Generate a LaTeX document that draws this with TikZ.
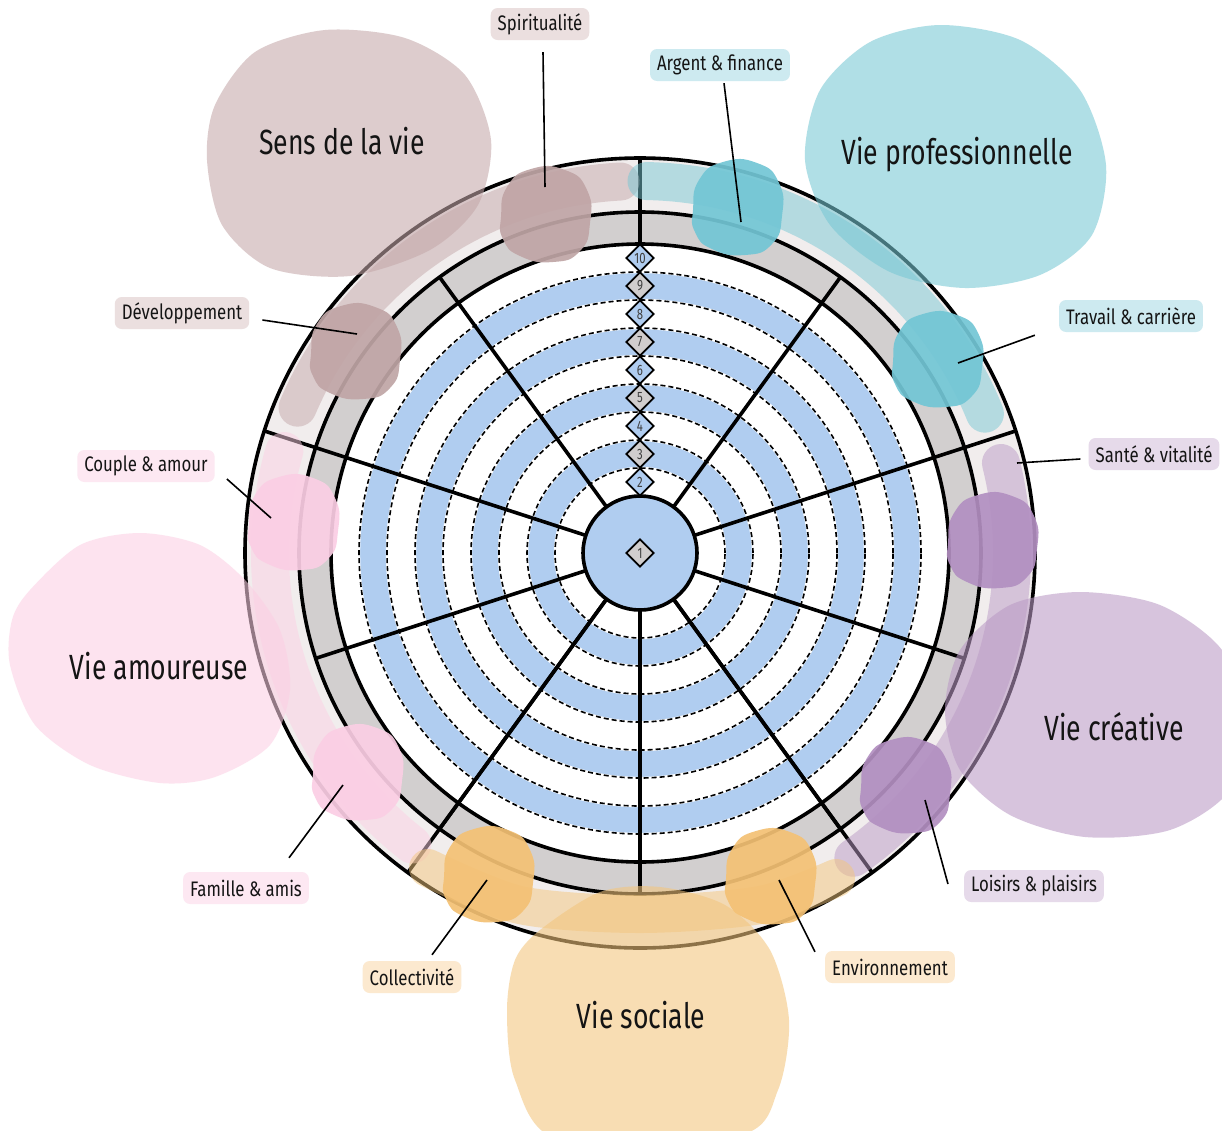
\documentclass[tikz,border=0pt]{standalone}
\usepackage{fontspec}
\setmainfont{Fira Sans}[FakeStretch=0.76]
\newfontfamily\labfont{Fira Sans}[FakeStretch=0.8]
\usetikzlibrary{shapes.geometric}
\definecolor{blueband}{RGB}{176,205,240}
\definecolor{ringgray}{RGB}{210,207,207}
\definecolor{ringlight}{RGB}{241,237,237}
\definecolor{diagray}{RGB}{208,205,205}
\definecolor{txt}{RGB}{20,20,20}
\definecolor{sensC}{RGB}{197,168,170}
\definecolor{proC}{RGB}{120,200,212}
\definecolor{creaC}{RGB}{187,155,198}
\definecolor{socC}{RGB}{243,198,125}
\definecolor{amoC}{RGB}{252,208,228}
\definecolor{sensS}{RGB}{192,165,166}
\definecolor{proS}{RGB}{114,198,213}
\definecolor{creaS}{RGB}{178,143,193}
\definecolor{amoS}{RGB}{251,206,228}
\definecolor{socS}{RGB}{244,193,116}
\definecolor{sensL}{RGB}{235,223,223}
\definecolor{proL}{RGB}{205,234,240}
\definecolor{creaL}{RGB}{230,218,234}
\definecolor{socL}{RGB}{252,233,207}
\definecolor{amoL}{RGB}{253,232,242}
\newcommand{\smallblob}[2]{%
  \fill[#2, fill opacity=0.92, shift={#1}] plot[smooth cycle, tension=0.9] coordinates
   {(-44,2) (-38,-28) (-14,-46) (20,-45) (42,-25) (45,8) (35,36) (8,47) (-25,41) (-42,24)};}
\begin{document}
\begin{tikzpicture}[x=1pt,y=-1pt,
  lab/.style={rounded corners=7pt, inner xsep=7pt, inner ysep=0pt, minimum height=32pt,
    text=txt, font=\labfont\fontsize{21}{24}\selectfont},
  big/.style={text=txt, font=\fontsize{35}{40}\selectfont, inner sep=0pt},
  dia/.style={diamond, draw=black, line width=1.8pt, minimum width=28pt, minimum height=28pt,
    inner sep=0pt, font=\fontsize{15}{15}\selectfont, text=black!75},
  ring/.style={draw=black, line width=3.6pt},
  spoke/.style={draw=black, line width=3.6pt},
  dashring/.style={draw=black, line width=1.6pt, dash pattern=on 5pt off 3pt},
  band/.style={line width=38pt, line cap=round, draw opacity=0.5},
  bigblob/.style={fill opacity=0.58},
  conn/.style={draw=black, line width=1.6pt}]
\path[use as bounding box] (0,0) rectangle (1222,1130);
\clip (0,0) rectangle (1222,1130);
\fill[white] (0,0) rectangle (1222,1130);
\coordinate (C) at (640,553);
% rings
\fill[ringlight] (C) circle[radius=395pt];
\fill[ringgray] (C) circle[radius=341pt];
\fill[white] (C) circle[radius=309pt];
\foreach \r/\c in {281/blueband,253/white,225/blueband,197/white,169/blueband,141/white,113/blueband,85/white,57/blueband}
  \fill[\c] (C) circle[radius=\r pt];
\foreach \r in {85,113,141,169,197,225,253,281}{
  \draw[white, line width=2.4pt] (C) circle[radius=\r pt];
  \draw[dashring] (C) circle[radius=\r pt];}
\foreach \r in {395,341,309,57}
  \draw[ring] (C) circle[radius=\r pt];
% spokes
\foreach \a in {54,126,198,234,270,306,342}
  \draw[spoke] ([shift={(\a:57pt)}]C) -- ([shift={(\a:341pt)}]C);
\foreach \a in {18,162,234,306}
  \draw[spoke] ([shift={(\a:57pt)}]C) -- ([shift={(\a:395pt)}]C);
\draw[spoke] ([shift={(90:309pt)}]C) -- ([shift={(90:395pt)}]C);
% diamonds
\node[dia, fill=diagray] (d1) at (C) {1};
\foreach \k in {2,...,10}{
  \pgfmathsetmacro{\yy}{553-71-28*(\k-2)}
  \pgfmathtruncatemacro{\parit}{mod(\k,2)}
  \ifnum\parit=0 \def\dc{blueband}\else\def\dc{diagray}\fi
  \node[dia, fill=\dc] (d\k) at (640,\yy) {\k};}
% bands
\draw[band, draw=sensC] ([shift={(93:372pt)}]C) arc[start angle=93, end angle=157, radius=372pt];
\draw[band, draw=proC] ([shift={(89:372pt)}]C) arc[start angle=89, end angle=22, radius=372pt];
\draw[band, draw=creaC] ([shift={(14:372pt)}]C) arc[start angle=14, end angle=-55, radius=372pt];
\draw[band, draw=amoC] ([shift={(164:370pt)}]C) arc[start angle=164, end angle=232, radius=370pt];
\draw[band, draw=socC] plot[smooth] coordinates {(428,868) (520,905) (640,914) (760,905) (836,878)};
% big blobs
\fill[sensC, bigblob] plot[smooth cycle] coordinates {(215,105) (255,52) (325,30) (405,38) (465,75) (491,140) (478,205) (430,250) (350,276) (270,268) (222,225) (207,160)};
\fill[proC, bigblob] plot[smooth cycle] coordinates {(820,90) (870,42) (940,25) (1020,40) (1080,90) (1106,165) (1092,235) (1040,275) (965,288) (890,272) (830,225) (805,160)};
\fill[creaC, bigblob] plot[smooth cycle] coordinates {(960,650) (1010,605) (1080,592) (1160,605) (1222,650) (1245,720) (1230,790) (1170,830) (1085,837) (1010,815) (960,770) (945,710)};
\fill[socC, bigblob] plot[smooth cycle] coordinates {(540,930) (600,892) (660,887) (725,905) (770,950) (789,1020) (778,1090) (740,1135) (560,1140) (515,1080) (507,1010) (515,960)};
\fill[amoC, bigblob] plot[smooth cycle] coordinates {(30,590) (80,545) (140,533) (200,545) (245,580) (280,630) (290,690) (270,745) (215,777) (160,783) (90,765) (35,725) (10,665) (12,620)};
% small blobs
\smallblob{(545,215)}{sensS}
\smallblob{(355,352)}{sensS}
\smallblob{(737,208)}{proS}
\smallblob{(937,360)}{proS}
\smallblob{(992,541)}{creaS}
\smallblob{(905,786)}{creaS}
\smallblob{(770,877)}{socS}
\smallblob{(488,875)}{socS}
\smallblob{(293,523)}{amoS}
\smallblob{(357,773)}{amoS}
% big labels
\node[big] (sens) at (342,141) {Sens de la vie};
\node[big] (pro) at (957,155) {Vie professionnelle};
\node[big] (crea) at (1114,727) {Vie créative};
\node[big] (soc) at (641,1015) {Vie sociale};
\node[big] (amo) at (159,666) {Vie amoureuse};
% small labels
\node[lab, fill=sensL] (spi) at (540,24) {Spiritualité};
\node[lab, fill=proL] (arg) at (720,65) {Argent \& finance};
\node[lab, fill=sensL] (dev) at (182,313) {Développement};
\node[lab, fill=proL] (tra) at (1131,316) {Travail \& carrière};
\node[lab, fill=creaL] (san) at (1154,454) {Santé \& vitalité};
\node[lab, fill=amoL] (cou) at (146,466) {Couple \& amour};
\node[lab, fill=amoL] (fam) at (246,888) {Famille \& amis};
\node[lab, fill=socL] (col) at (412,977) {Collectivité};
\node[lab, fill=socL] (env) at (890,967) {Environnement};
\node[lab, fill=creaL] (loi) at (1034,886) {Loisirs \& plaisirs};
% connector targets
\coordinate (spiP) at (545,187);
\coordinate (argP) at (741,222);
\coordinate (devP) at (357,334);
\coordinate (traP) at (958,363);
\coordinate (sanP) at (1017,463);
\coordinate (couP) at (271,518);
\coordinate (famP) at (343,785);
\coordinate (colP) at (487,880);
\coordinate (envP) at (779,880);
\coordinate (loiP) at (925,800);
\draw[conn] ([xshift=3pt,yshift=-12pt]spi.south) -- (spiP);
\draw[conn] ([xshift=4pt,yshift=-2pt]arg.south) -- (argP);
\draw[conn] ([xshift=13pt,yshift=-7pt]dev.east) -- (devP);
\draw[conn] ([xshift=-24pt,yshift=-3pt]tra.south west) -- (traP);
\draw[conn] ([xshift=-8pt,yshift=-5pt]san.west) -- (sanP);
\draw[conn] ([xshift=12pt,yshift=-13pt]cou.east) -- (couP);
\draw[conn] ([xshift=43pt,yshift=14pt]fam.north) -- (famP);
\draw[conn] ([xshift=20pt,yshift=6pt]col.north) -- (colP);
\draw[conn] ([xshift=-10pt,yshift=-1pt]env.north west) -- (envP);
\draw[conn] ([xshift=-16pt,yshift=2pt]loi.west) -- (loiP);
\end{tikzpicture}
\end{document}
